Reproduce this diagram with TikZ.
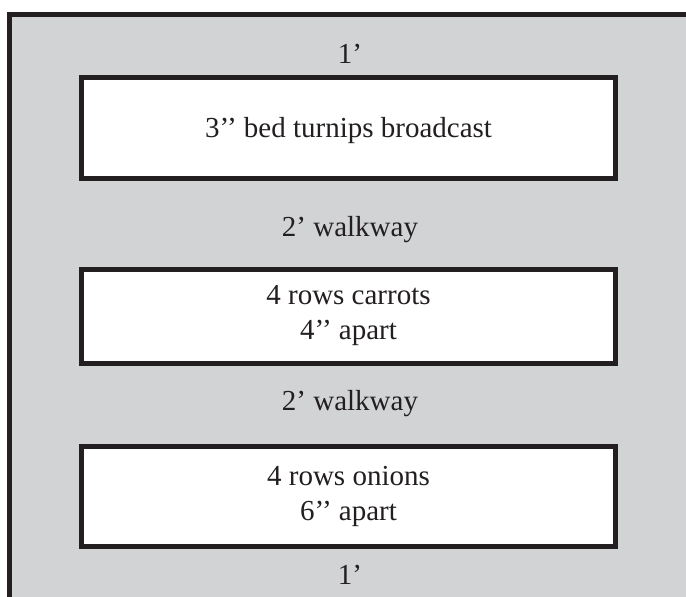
\documentclass[tikz,border=0pt]{standalone}
\usepackage{fontspec}
\setmainfont{Liberation Serif}
\definecolor{bedgray}{RGB}{210,211,213}
\definecolor{ink}{RGB}{35,31,32}
\begin{document}
\begin{tikzpicture}[x=0.5pt,y=-0.5pt,
  bed/.style={draw=ink, line width=2.5pt, fill=white},
  lbl/.style={anchor=base, text=ink, font=\fontsize{14.5}{18}\selectfont, inner sep=0pt},
  lbltwo/.style={anchor=center, text=ink, font=\fontsize{14.5}{17.5}\selectfont, align=center, inner sep=0pt}]
\useasboundingbox (0,0) rectangle (686,596);
\begin{scope}
\clip (0,0) rectangle (686,596);
\fill[bedgray] (9.5,14) rectangle (720,640);
\draw[ink, line width=2.5pt] (9.5,640) -- (9.5,14) -- (720,14);
\end{scope}
\draw[bed] (81.5,77.5) rectangle (615.5,178.5);
\draw[bed] (81.5,269.5) rectangle (615.5,363);
\draw[bed] (81.5,446.5) rectangle (615.5,546);
\node[lbl] (top) at (350,63) {1’};
\node[lbl] (turnips) at (348.5,137) {3’’ bed turnips broadcast};
\node[lbl] (walk1) at (350,236.5) {2’ walkway};
\node[lbltwo] (carrots) at (348.5,316) {4 rows carrots\\4’’ apart};
\node[lbl] (walk2) at (350,410) {2’ walkway};
\node[lbltwo] (onions) at (348.5,496) {4 rows onions\\6’’ apart};
\node[lbl] (bottom) at (350,584) {1’};
\end{tikzpicture}
\end{document}
